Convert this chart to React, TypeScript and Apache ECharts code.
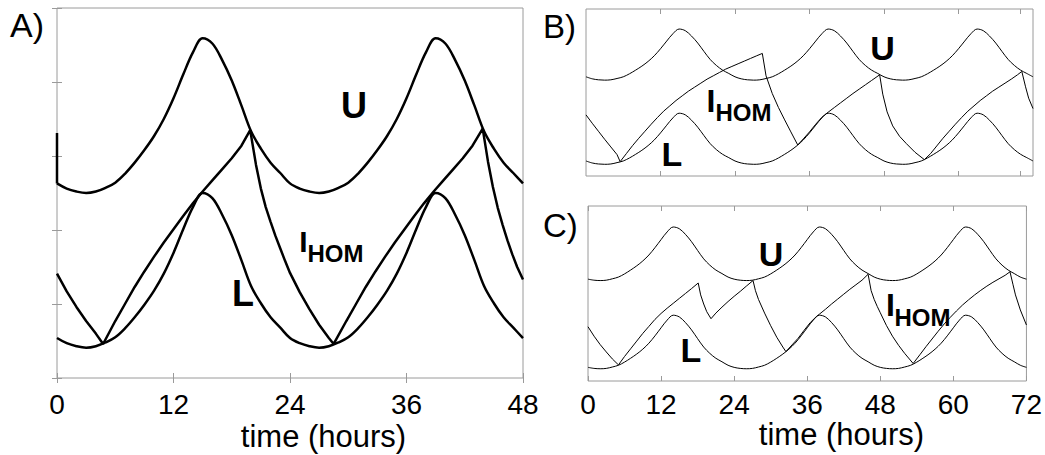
import React, { useEffect, useRef } from "react";
import * as echarts from "echarts";

type P = [number, number];
const FONT = "'Liberation Sans', Arial, Helvetica, sans-serif";
const GRAY = "#9a9a9a";

// ---------- Panel A (0-48 h) ----------
const aEdge: P[] = [[0, 3.31], [0, 2.63]];
const aU: P[] = [
  [0, 2.63], [1, 2.56], [2, 2.52], [3, 2.5], [4, 2.52], [5, 2.57], [6, 2.64], [7, 2.76], [8, 2.91], [9, 3.08], [10, 3.27], [11, 3.5],
  [12, 3.78], [13, 4.1], [14, 4.4], [15, 4.59], [16, 4.52], [17, 4.3], [18, 4.02], [19, 3.68], [20, 3.33], [21, 3.1], [22, 2.91], [23, 2.77],
  [24, 2.63], [25, 2.56], [26, 2.52], [27, 2.5], [28, 2.52], [29, 2.57], [30, 2.64], [31, 2.76], [32, 2.91], [33, 3.08], [34, 3.27], [35, 3.5],
  [36, 3.78], [37, 4.1], [38, 4.4], [39, 4.59], [40, 4.52], [41, 4.3], [42, 4.02], [43, 3.68], [44, 3.33], [45, 3.1], [46, 2.91], [47, 2.77], [48, 2.63],
];
const aL: P[] = [
  [0, 0.54], [1, 0.47], [2, 0.43], [3, 0.41], [4, 0.43], [5, 0.48], [6, 0.55], [7, 0.67], [8, 0.82], [9, 0.99], [10, 1.18], [11, 1.41],
  [12, 1.69], [13, 2.01], [14, 2.31], [15, 2.5], [16, 2.43], [17, 2.21], [18, 1.93], [19, 1.59], [20, 1.24], [21, 1.01], [22, 0.82], [23, 0.68],
  [24, 0.54], [25, 0.47], [26, 0.43], [27, 0.41], [28, 0.43], [29, 0.48], [30, 0.55], [31, 0.67], [32, 0.82], [33, 0.99], [34, 1.18], [35, 1.41],
  [36, 1.69], [37, 2.01], [38, 2.31], [39, 2.5], [40, 2.43], [41, 2.21], [42, 1.93], [43, 1.59], [44, 1.24], [45, 1.01], [46, 0.82], [47, 0.68], [48, 0.54],
];
const aI: P[] = [
  [0, 1.41], [1, 1.17], [2, 0.96], [3, 0.77], [4, 0.6], [4.75, 0.46],
  [6, 0.77], [7, 1.0], [8, 1.23], [9, 1.44], [10, 1.64], [11, 1.83], [12, 2.01], [13, 2.19], [14, 2.36], [15, 2.52], [16, 2.67], [17, 2.82], [18, 2.97], [19, 3.14], [19.9, 3.35],
  [20.5, 2.88], [21, 2.56], [21.5, 2.31], [22, 2.11], [22.5, 1.92], [23, 1.75], [23.5, 1.58], [24, 1.42], [25, 1.16], [26, 0.93], [27, 0.72], [28, 0.54], [28.5, 0.46],
  [29.8, 0.77], [30.8, 1.0], [31.8, 1.23], [32.8, 1.44], [33.8, 1.64], [34.8, 1.83], [35.8, 2.01], [36.8, 2.19], [37.8, 2.36], [38.8, 2.52], [39.8, 2.67], [40.8, 2.82], [41.8, 2.97], [42.8, 3.14], [43.85, 3.37],
  [44.4, 2.92], [44.9, 2.58], [45.4, 2.3], [45.9, 2.07], [46.4, 1.86], [46.9, 1.67], [47.4, 1.5], [48, 1.33],
];

// ---------- Panel B (0-72 h) ----------
const bTickMarks = [12, 24, 36, 48, 60, 70];
const bU: P[] = [
  [0, 2.97], [1, 2.91], [2, 2.88], [3, 2.87], [4, 2.88], [5, 2.92], [6, 2.97], [7, 3.06], [8, 3.17], [9, 3.29], [10, 3.43], [11, 3.6],
  [12, 3.81], [13, 4.04], [14, 4.26], [15, 4.4], [16, 4.35], [17, 4.19], [18, 3.98], [19, 3.73], [20, 3.49], [21, 3.31], [22, 3.17], [23, 3.07],
  [24, 2.97], [25, 2.91], [26, 2.88], [27, 2.87], [28, 2.88], [29, 2.92], [30, 2.97], [31, 3.06], [32, 3.17], [33, 3.29], [34, 3.43], [35, 3.6],
  [36, 3.81], [37, 4.04], [38, 4.26], [39, 4.4], [40, 4.35], [41, 4.19], [42, 3.98], [43, 3.73], [44, 3.49], [45, 3.31], [46, 3.17], [47, 3.07],
  [48, 2.97], [49, 2.91], [50, 2.88], [51, 2.87], [52, 2.88], [53, 2.92], [54, 2.97], [55, 3.06], [56, 3.17], [57, 3.29], [58, 3.43], [59, 3.6],
  [60, 3.81], [61, 4.04], [62, 4.26], [63, 4.4], [64, 4.35], [65, 4.19], [66, 3.98], [67, 3.73], [68, 3.49], [69, 3.31], [70, 3.17], [71, 3.07], [72, 2.97],
];
const bL: P[] = [
  [0, 0.45], [1, 0.39], [2, 0.36], [3, 0.35], [4, 0.36], [5, 0.4], [6, 0.45], [7, 0.54], [8, 0.65], [9, 0.77], [10, 0.91], [11, 1.08],
  [12, 1.29], [13, 1.52], [14, 1.74], [15, 1.88], [16, 1.83], [17, 1.67], [18, 1.46], [19, 1.21], [20, 0.97], [21, 0.79], [22, 0.65], [23, 0.55],
  [24, 0.45], [25, 0.39], [26, 0.36], [27, 0.35], [28, 0.36], [29, 0.4], [30, 0.45], [31, 0.54], [32, 0.65], [33, 0.77], [34, 0.91], [35, 1.08],
  [36, 1.29], [37, 1.52], [38, 1.74], [39, 1.88], [40, 1.83], [41, 1.67], [42, 1.46], [43, 1.21], [44, 0.97], [45, 0.79], [46, 0.65], [47, 0.55],
  [48, 0.45], [49, 0.39], [50, 0.36], [51, 0.35], [52, 0.36], [53, 0.4], [54, 0.45], [55, 0.54], [56, 0.65], [57, 0.77], [58, 0.91], [59, 1.08],
  [60, 1.29], [61, 1.52], [62, 1.74], [63, 1.88], [64, 1.83], [65, 1.67], [66, 1.46], [67, 1.21], [68, 0.97], [69, 0.79], [70, 0.65], [71, 0.55], [72, 0.45],
];
const bI: P[] = [
  [0, 1.83], [1, 1.58], [2, 1.34], [3, 1.1], [4, 0.87], [5, 0.64], [5.5, 0.43],
  [6.5, 0.67], [7.5, 0.91], [8.5, 1.13], [9.5, 1.34], [10.5, 1.55], [11.5, 1.75], [12.5, 1.94], [13.5, 2.1], [14.5, 2.26], [15.5, 2.4], [16.5, 2.54],
  [17.5, 2.66], [18.5, 2.78], [19.5, 2.9], [20.5, 3.0], [21.5, 3.1], [22.5, 3.2], [23.5, 3.28], [24.5, 3.36], [25.5, 3.44], [26.5, 3.52], [27.5, 3.6], [28.4, 3.67],
  [29, 3.0], [30, 2.47], [31, 2.05], [32, 1.68], [33, 1.32], [34.1, 0.93],
  [35, 1.11], [36, 1.32], [37, 1.55], [38, 1.76], [39, 1.91], [40, 2.05], [41, 2.19], [42, 2.33], [43, 2.47], [44, 2.6], [45, 2.73], [46, 2.86], [47.3, 3.03],
  [47.8, 2.45], [48.5, 1.92], [49.4, 1.5], [50.5, 1.19], [51.6, 0.97], [53, 0.71], [54.5, 0.49],
  [55.5, 0.67], [56.5, 0.9], [57.5, 1.13], [58.5, 1.34], [59.5, 1.55], [60.5, 1.75], [61.5, 1.94], [62.5, 2.1], [63.5, 2.26], [64.5, 2.4], [65.5, 2.54],
  [66.5, 2.66], [67.5, 2.78], [68.5, 2.9], [69.5, 3.03], [70.2, 3.13],
  [70.8, 2.67], [71.3, 2.33], [72, 2.02],
];

// ---------- Panel C (0-72 h) ----------
const cU: P[] = [
  [0, 2.91], [1, 2.88], [2, 2.87], [3, 2.88], [4, 2.92], [5, 2.97], [6, 3.06], [7, 3.17], [8, 3.29], [9, 3.43], [10, 3.6], [11, 3.81],
  [12, 4.04], [13, 4.26], [14, 4.4], [15, 4.35], [16, 4.19], [17, 3.98], [18, 3.73], [19, 3.49], [20, 3.31], [21, 3.17], [22, 3.07], [23, 2.97],
  [24, 2.91], [25, 2.88], [26, 2.87], [27, 2.88], [28, 2.92], [29, 2.97], [30, 3.06], [31, 3.17], [32, 3.29], [33, 3.43], [34, 3.6], [35, 3.81],
  [36, 4.04], [37, 4.26], [38, 4.4], [39, 4.35], [40, 4.19], [41, 3.98], [42, 3.73], [43, 3.49], [44, 3.31], [45, 3.17], [46, 3.07], [47, 2.97],
  [48, 2.91], [49, 2.88], [50, 2.87], [51, 2.88], [52, 2.92], [53, 2.97], [54, 3.06], [55, 3.17], [56, 3.29], [57, 3.43], [58, 3.6], [59, 3.81],
  [60, 4.04], [61, 4.26], [62, 4.4], [63, 4.35], [64, 4.19], [65, 3.98], [66, 3.73], [67, 3.49], [68, 3.31], [69, 3.17], [70, 3.07], [71, 2.97], [72, 2.91],
];
const cL: P[] = [
  [0, 0.39], [1, 0.36], [2, 0.35], [3, 0.36], [4, 0.4], [5, 0.45], [6, 0.54], [7, 0.65], [8, 0.77], [9, 0.91], [10, 1.08], [11, 1.29],
  [12, 1.52], [13, 1.74], [14, 1.88], [15, 1.83], [16, 1.67], [17, 1.46], [18, 1.21], [19, 0.97], [20, 0.79], [21, 0.65], [22, 0.55], [23, 0.45],
  [24, 0.39], [25, 0.36], [26, 0.35], [27, 0.36], [28, 0.4], [29, 0.45], [30, 0.54], [31, 0.65], [32, 0.77], [33, 0.91], [34, 1.08], [35, 1.29],
  [36, 1.52], [37, 1.74], [38, 1.88], [39, 1.83], [40, 1.67], [41, 1.46], [42, 1.21], [43, 0.97], [44, 0.79], [45, 0.65], [46, 0.55], [47, 0.45],
  [48, 0.39], [49, 0.36], [50, 0.35], [51, 0.36], [52, 0.4], [53, 0.45], [54, 0.54], [55, 0.65], [56, 0.77], [57, 0.91], [58, 1.08], [59, 1.29],
  [60, 1.52], [61, 1.74], [62, 1.88], [63, 1.83], [64, 1.67], [65, 1.46], [66, 1.21], [67, 0.97], [68, 0.79], [69, 0.65], [70, 0.55], [71, 0.45], [72, 0.39],
];
const cI: P[] = [
  [0, 1.55], [1, 1.28], [2, 1.04], [3, 0.83], [4, 0.63], [5, 0.46],
  [6, 0.7], [7, 0.92], [8, 1.14], [9, 1.36], [10, 1.56], [11, 1.76], [12, 1.93], [13, 2.08], [14, 2.22], [15, 2.36], [16, 2.5], [17, 2.64], [18.1, 2.8],
  [18.5, 2.46], [19, 2.2], [19.5, 1.98], [20.2, 1.78],
  [21, 1.94], [22, 2.11], [23, 2.27], [24, 2.42], [25, 2.56], [26, 2.71], [27.1, 2.87],
  [27.5, 2.58], [28, 2.33], [29, 1.94], [30, 1.58], [31, 1.25], [32, 0.97], [32.5, 0.84],
  [33.5, 1.03], [34.5, 1.22], [35.5, 1.45], [36.5, 1.67], [37.5, 1.84], [38, 1.91], [39, 2.05], [40, 2.2], [41, 2.34], [42, 2.48], [43, 2.62], [44, 2.75], [45, 2.88], [46, 3.05],
  [46.5, 2.58], [47, 2.33], [47.5, 2.13], [48, 1.95], [49, 1.59], [50, 1.28], [51, 1.02], [52, 0.79], [53.4, 0.5],
  [54.5, 0.75], [55.5, 0.98], [56.5, 1.2], [57.5, 1.42], [58.5, 1.63], [59.5, 1.82], [60.5, 2.0], [61.5, 2.17], [62.5, 2.32], [63.5, 2.46], [64.5, 2.59],
  [65.5, 2.71], [66.5, 2.82], [67.5, 2.92], [68.5, 3.02], [69.3, 3.12],
  [69.8, 2.75], [70.2, 2.46], [71, 2.03], [72, 1.6],
];

const tickStyle = { inside: true, length: 5, lineStyle: { color: GRAY, width: 1 } };

function xAxis(grid: number, max: number, pos: "top" | "bottom", labels: boolean, margin: number, customTicks?: number[]) {
  return {
    gridIndex: grid,
    type: "value",
    min: 0,
    max,
    interval: 12,
    position: pos,
    axisLine: { show: false },
    axisTick: customTicks ? { ...tickStyle, customValues: customTicks } : tickStyle,
    axisLabel: labels
      ? { show: true, fontSize: 28, color: "#000", fontFamily: FONT, margin }
      : { show: false },
    splitLine: { show: false },
  };
}

function yAxis(grid: number, pos: "left" | "right", ticks: boolean) {
  return {
    gridIndex: grid,
    type: "value",
    min: 0,
    max: 5,
    interval: 1,
    position: pos,
    axisLine: { show: false },
    axisTick: ticks ? tickStyle : { show: false },
    axisLabel: { show: false },
    splitLine: { show: false },
  };
}

function line(data: P[], xi: number, yi: number, width: number, smooth: boolean | number) {
  return {
    type: "line",
    data,
    xAxisIndex: xi,
    yAxisIndex: yi,
    showSymbol: false,
    symbol: "none",
    smooth,
    clip: true,
    lineStyle: { color: "#000", width },
    silent: true,
  };
}

function txt(text: string, x: number, y: number, size: number, bold: boolean, align = "center") {
  return {
    type: "text",
    x,
    y,
    silent: true,
    style: {
      text,
      fontSize: size,
      fontWeight: bold ? "bold" : "normal",
      fontFamily: FONT,
      fill: "#000",
      align,
      verticalAlign: "middle",
    },
  };
}

export default function App() {
  const ref = useRef<HTMLDivElement>(null);
  useEffect(() => {
    const chart = echarts.init(ref.current!, null, { renderer: "svg" });
    const option: any = {
      animation: false,
      backgroundColor: "#fff",
      grid: [
        { left: 57, top: 8, width: 466, height: 370, show: true, borderColor: GRAY, borderWidth: 1, backgroundColor: "transparent" },
        { left: 586, top: 9, width: 447, height: 167, show: true, borderColor: GRAY, borderWidth: 1, backgroundColor: "transparent" },
        { left: 588, top: 206, width: 443, height: 175, show: true, borderColor: GRAY, borderWidth: 1, backgroundColor: "transparent" },
      ],
      xAxis: [
        xAxis(0, 48, "bottom", true, 12),
        xAxis(0, 48, "top", false, 0),
        xAxis(1, 72, "bottom", false, 0, bTickMarks),
        xAxis(1, 72, "top", false, 0, bTickMarks),
        xAxis(2, 72, "bottom", true, 9),
        xAxis(2, 72, "top", false, 0),
      ],
      yAxis: [yAxis(0, "left", true), yAxis(0, "right", true), yAxis(1, "left", false), yAxis(2, "left", false)],
      series: [
        line(aEdge, 0, 0, 2.5, false),
        line(aU, 0, 0, 2.5, 0.35),
        line(aL, 0, 0, 2.5, 0.35),
        line(aI, 0, 0, 2.5, false),
        line(bU, 2, 2, 1, 0.35),
        line(bL, 2, 2, 1, 0.35),
        line(bI, 2, 2, 1, false),
        line(cU, 4, 3, 1, 0.35),
        line(cL, 4, 3, 1, 0.35),
        line(cI, 4, 3, 1, false),
      ],
      graphic: [
        txt("A)", 10, 25, 34, false, "left"),
        txt("B)", 543, 26, 33, false, "left"),
        txt("C)", 543, 225, 33, false, "left"),
        txt("U", 354, 105, 36, true),
        txt("L", 243, 293.5, 36, true),
        txt("I", 303.5, 241, 30, true),
        txt("HOM", 307.5, 253.5, 24, true, "left"),
        txt("U", 882.5, 48, 34, true),
        txt("L", 672, 154, 34, true),
        txt("I", 711, 101, 32, true),
        txt("HOM", 715.5, 112.5, 24, true, "left"),
        txt("U", 771, 254, 34, true),
        txt("L", 691, 350, 34, true),
        txt("I", 890.5, 305, 32, true),
        txt("HOM", 894.5, 317, 24, true, "left"),
        txt("time (hours)", 323.5, 436, 31, false),
        txt("time (hours)", 841.5, 434, 31, false),
      ],
    };
    chart.setOption(option);
    return () => chart.dispose();
  }, []);
  return (
    <div
      ref={ref}
      style={{ position: "fixed", left: 0, top: 0, width: 1045, height: 455, background: "#fff" }}
    />
  );
}
